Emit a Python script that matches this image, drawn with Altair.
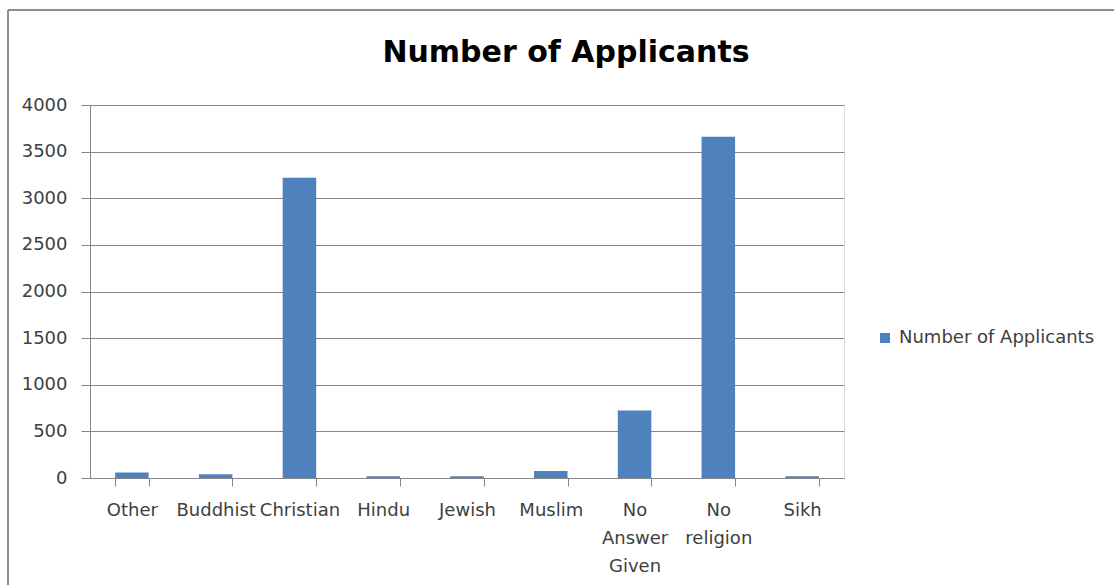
import altair as alt
import pandas as pd

categories = ["Other", "Buddhist", "Christian", "Hindu", "Jewish", "Muslim",
              "No Answer Given", "No religion", "Sikh"]
values = [60, 40, 3220, 20, 20, 75, 725, 3660, 20]
series_name = "Number of Applicants"
y_ticks = [0, 500, 1000, 1500, 2000, 2500, 3000, 3500, 4000]

df = pd.DataFrame({"Religion": categories, "Applicants": values, "Series": series_name})

FONT = "DejaVu Sans"
GRAY = "#868686"
TEXT = "#404040"

bars = alt.Chart(df).mark_bar(color="#4F81BD").encode(
    x=alt.X("Religion:N", sort=categories,
            scale=alt.Scale(paddingInner=0.6, paddingOuter=0.3),
            axis=alt.Axis(title=None, labelAngle=0, tickBand="extent", tickSize=8,
                          tickColor=GRAY, domainColor=GRAY, labelColor=TEXT,
                          labelFont=FONT, labelFontSize=18, labelPadding=15,
                          labelExpr="split(datum.label, ' ')", labelLineHeight=28,
                          labelBaseline="top", grid=False, labelOverlap=False)),
    y=alt.Y("Applicants:Q", scale=alt.Scale(domain=[0, 4000], nice=False),
            axis=alt.Axis(title=None, values=y_ticks, format="d", tickSize=9,
                          tickColor=GRAY, domainColor=GRAY, gridColor=GRAY,
                          labelColor=TEXT, labelFont=FONT, labelFontSize=18,
                          labelPadding=14)),
    color=alt.Color("Series:N", scale=alt.Scale(range=["#4F81BD"]),
                    legend=alt.Legend(title=None, orient="none", legendX=786, legendY=224,
                                      symbolType="square", symbolSize=100,
                                      labelFont=FONT, labelFontSize=18, labelColor=TEXT,
                                      labelOffset=5, labelLimit=320)),
)

border_data = alt.Data(values=[{"k": 1}])
top_border = alt.Chart(border_data).mark_rule(color="#8c8c8c", strokeWidth=2).encode(
    x=alt.value(-82), x2=alt.value(1030), y=alt.value(-95))
left_border = alt.Chart(border_data).mark_rule(color="#8c8c8c", strokeWidth=2).encode(
    x=alt.value(-82), y=alt.value(-95), y2=alt.value(485))

chart = alt.layer(bars, top_border, left_border).properties(
    width=754, height=373,
    autosize=alt.AutoSizeParams(type="none"),
    padding={"left": 90, "top": 105, "right": 270, "bottom": 107},
    title=alt.TitleParams(series_name, font=FONT, fontSize=30, fontWeight="bold",
                          color="#000000", dx=99, dy=121, offset=38, anchor="middle",
                          frame="group", baseline="alphabetic"),
).configure_view(stroke=None).configure(background="white")

chart.save("out.html", embed_options={"renderer": "svg", "actions": False})
